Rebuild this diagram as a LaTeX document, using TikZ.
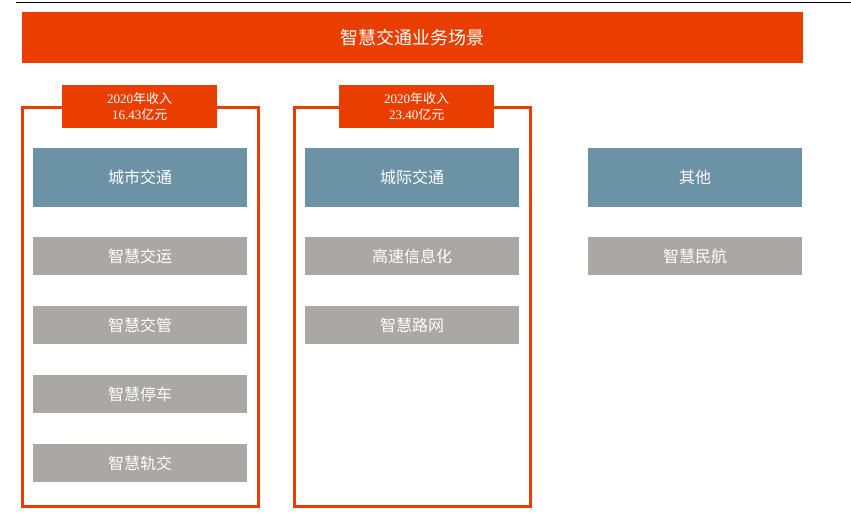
\documentclass[tikz,border=0pt]{standalone}
\usepackage{fontspec}
\setmainfont{Liberation Serif}
\newfontfamily\cjk{Noto Sans CJK SC}
\definecolor{org}{HTML}{EA3E00}
\definecolor{blu}{HTML}{6C92A5}
\definecolor{gry}{HTML}{ABA7A6}
\begin{document}
\begin{tikzpicture}[x=1pt,y=-1pt,
  box/.style={draw=none,inner sep=0,anchor=north west,text=white},
  bbox/.style={box,fill=blu,minimum width=214pt,minimum height=59pt,font=\cjk\fontsize{16}{18}\selectfont},
  gbox/.style={box,fill=gry,minimum width=214pt,minimum height=38pt,font=\cjk\fontsize{16}{18}\selectfont},
  frame/.style={draw=org,line width=2.5pt},
  lab/.style={box,fill=org,minimum width=155pt,minimum height=43pt,align=center,font=\fontsize{13}{16}\selectfont}]
\useasboundingbox (0,0) rectangle (851,518);
\draw[line width=1pt] (16,3) -- (851,3);
\node[box,fill=org,minimum width=781pt,minimum height=51pt,font=\cjk\fontsize{18}{20}\selectfont] (hdr) at (22,12) {智慧交通业务场景};
\draw[frame] (22.5,107.5) rectangle (258.5,506.5);
\draw[frame] (294.5,107.5) rectangle (530.5,506.5);
\node[lab] (l1) at (62,85) {2020{\cjk 年收入}\\16.43{\cjk 亿元}};
\node[lab] (l2) at (339,85) {2020{\cjk 年收入}\\23.40{\cjk 亿元}};
\node[bbox] (b1) at (33,148) {城市交通};
\node[bbox] (b2) at (305,148) {城际交通};
\node[bbox] (b3) at (588,148) {其他};
\node[gbox] (g11) at (33,237) {智慧交运};
\node[gbox] (g12) at (33,306) {智慧交管};
\node[gbox] (g13) at (33,375) {智慧停车};
\node[gbox] (g14) at (33,444) {智慧轨交};
\node[gbox] (g21) at (305,237) {高速信息化};
\node[gbox] (g22) at (305,306) {智慧路网};
\node[gbox] (g31) at (588,237) {智慧民航};
\end{tikzpicture}
\end{document}
